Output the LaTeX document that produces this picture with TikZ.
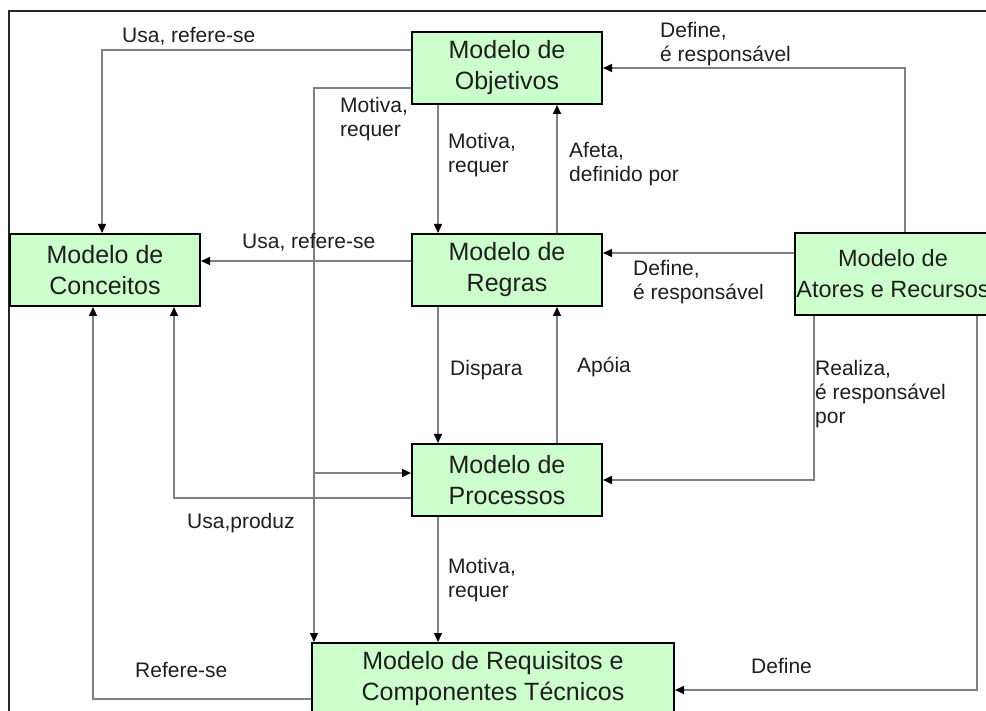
\documentclass[tikz,border=0pt]{standalone}
\usepackage{fontspec}
\setmainfont{Liberation Sans}
\usetikzlibrary{arrows.meta, positioning}
\definecolor{modelgreen}{HTML}{CCFFCC}
\definecolor{linegray}{HTML}{808080}
\definecolor{textdark}{HTML}{1E1E1E}
\tikzset{
  % Model boxes
  model/.style={
    draw=black, fill=modelgreen, line width=2pt,
    minimum height=72pt, minimum width=190pt,
    font=\fontsize{25}{31}\selectfont, text=textdark,
    align=center, inner sep=4pt,
  },
  % Relations between models
  arr/.style={-{Triangle[length=9pt, width=8pt, color=black]},
              line width=1.5pt, linegray},
  reltext/.style={font=\fontsize{21}{24}\selectfont, text=textdark,
                  align=left, anchor=north west, inner sep=0pt},
  frameline/.style={line width=1.5pt, black!85},
}

\begin{document}
\begin{tikzpicture}[x=1pt, y=-1pt]
    \useasboundingbox (0,0) rectangle (986,711);
    \draw[frameline] (986,11) -- (9,11) -- (9,711);

    \node[model] (obj) at (507,68) {Modelo de\\Objetivos};
    \node[model, below=128pt of obj] (reg) {Modelo de\\Regras};
    \node[model, left=210pt of reg] (conc) {Modelo de\\Conceitos};
    \node[model, below=136pt of reg] (proc) {Modelo de\\Processos};
    \node[model, below=125pt of proc, xshift=-14pt, minimum width=362pt] (req)
      {Modelo de Requisitos e\\Componentes Técnicos};
    \node[model, right=191pt of reg, yshift=-4pt, minimum height=82pt,
          minimum width=196pt, inner xsep=0pt,
          font=\fontsize{23.5}{31}\selectfont] (ator)
      {Modelo de\\Atores e Recursos};

    \coordinate (reqin) at ([xshift=3pt]req.north west);
    \coordinate (procin) at ([yshift=7pt]proc.west);

    \draw[arr] ([yshift=18pt]obj.west) -| ([xshift=-3pt]conc.north);
    \draw[arr] ([yshift=-20pt]obj.west) -| (reqin);
    \draw[arr] (reqin |- procin) -- (procin);
    \draw[arr] ([xshift=-69pt]obj.south) -- ([xshift=-69pt]reg.north);
    \draw[arr] ([xshift=50pt]reg.north) -- ([xshift=50pt]obj.south);
    \draw[arr] ([yshift=9pt]reg.west) -- ([yshift=9pt]conc.east);
    \draw[arr] ([yshift=21pt]ator.west) -- ([yshift=17pt]reg.east);
    \draw[arr] ([xshift=12pt]ator.north) |- (obj.east);
    \draw[arr] ([xshift=-69pt]reg.south) -- ([xshift=-69pt]proc.north);
    \draw[arr] ([xshift=50pt]proc.north) -- ([xshift=50pt]reg.south);
    \draw[arr] ([xshift=-79pt]ator.south) |- (proc.east);
    \draw[arr] ([xshift=84pt]ator.south) |- ([yshift=-11pt]req.east);
    \draw[arr] ([yshift=-18pt]proc.west) -| ([xshift=69pt]conc.south);
    \draw[arr] ([yshift=-20pt]req.west) -| ([xshift=-12pt]conc.south);
    \draw[arr] ([xshift=-69pt]proc.south) -- ([xshift=-55pt]req.north);

    \node[reltext] (usa1) at (122,27) {Usa, refere-se};
    \node[reltext] (motiva1) at (340,97) {Motiva,\\requer};
    \node[reltext] (motiva2) at (448,133) {Motiva,\\requer};
    \node[reltext] (afeta) at (569,142) {Afeta,\\definido por};
    \node[reltext] (usa2) at (242,233) {Usa, refere-se};
    \node[reltext] (define1) at (660,22) {Define,\\é responsável};
    \node[reltext] (define2) at (633,260) {Define,\\é responsável};
    \node[reltext] (dispara) at (450,360) {Dispara};
    \node[reltext] (apoia) at (577,357) {Apóia};
    \node[reltext] (realiza) at (815,360) {Realiza,\\é responsável\\por};
    \node[reltext] (usaproduz) at (187,513) {Usa,produz};
    \node[reltext] (motiva3) at (448,558) {Motiva,\\requer};
    \node[reltext] (refere) at (135,662) {Refere-se};
    \node[reltext] (define3) at (751,658) {Define};
\end{tikzpicture}
\end{document}
